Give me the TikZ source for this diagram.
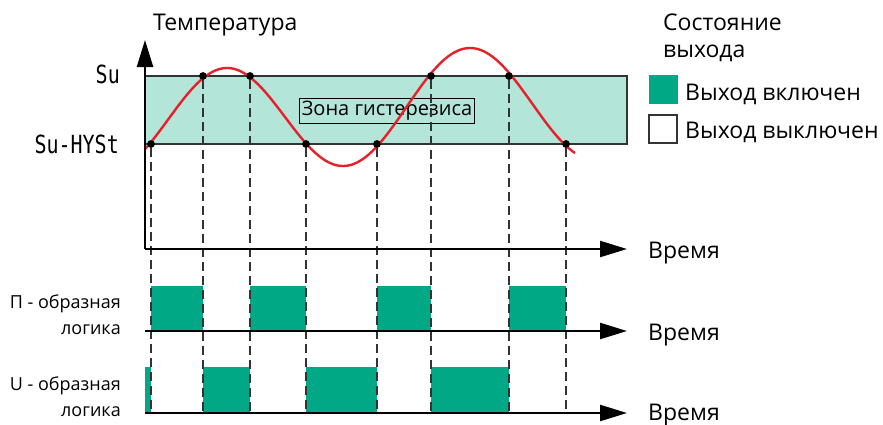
\documentclass[tikz,border=0pt]{standalone}
\usepackage{fontspec}
\setmainfont{Open Sans}
\newfontfamily\segfont[FakeStretch=0.8]{DejaVu Sans Mono}
\usetikzlibrary{arrows.meta}
\definecolor{zone}{HTML}{B3E5D9}
\definecolor{ongreen}{HTML}{00A886}
\definecolor{curvered}{HTML}{E8202A}
\definecolor{dashgray}{HTML}{333333}
\begin{document}
\begin{tikzpicture}[x=1pt,y=-1pt,
  axis/.style={line width=2.4pt,-{Triangle[length=27pt,width=16pt]}},
  bandline/.style={draw=dashgray,line width=1.3pt},
  vdash/.style={draw=dashgray,line width=1.4pt,dash pattern=on 9pt off 5pt},
  dot/.style={circle,fill=black,inner sep=0pt,minimum size=7.5pt},
  curve/.style={draw=curvered,line width=2.4pt},
  block/.style={fill=ongreen},
  big/.style={font=\fontsize{23}{27}\selectfont},
  mid/.style={font=\fontsize{20}{26}\selectfont},
  small/.style={font=\fontsize{18}{26}\selectfont},
  seg/.style={font=\segfont\fontsize{25}{30}\selectfont},
]
\useasboundingbox (0,0) rectangle (883,424);
% hysteresis band
\fill[zone] (145,76) rectangle (627,144);
\draw[bandline] (145,76) -- (627,76) -- (627,144) -- (145,144);
\node[draw=black,line width=1pt,inner sep=2.5pt,mid] (zonelabel) at (387,111) {Зона гистерезиса};
% output blocks, П-logic
\fill[block] (151,286) rectangle (203,331);
\fill[block] (250,286) rectangle (306,331);
\fill[block] (377,286) rectangle (431,331);
\fill[block] (509,286) rectangle (566,331);
% output blocks, U-logic
\fill[block] (145,367) rectangle (151,413);
\fill[block] (203,367) rectangle (250,413);
\fill[block] (306,367) rectangle (377,413);
\fill[block] (431,367) rectangle (509,413);
% switching points
\node[dot] (p1) at (151,144) {};
\node[dot] (p2) at (203,76) {};
\node[dot] (p3) at (250,76) {};
\node[dot] (p4) at (306,144) {};
\node[dot] (p5) at (377,144) {};
\node[dot] (p6) at (431,76) {};
\node[dot] (p7) at (509,76) {};
\node[dot] (p8) at (566,144) {};
\foreach \i/\xx in {1/151,2/203,3/250,4/306,5/377,6/431,7/509,8/566}{
  \coordinate (q\i) at (\xx,413);
  \draw[vdash] (p\i) -- (q\i);
}
% temperature curve
\draw[curve] plot[domain=145:227,samples=40] (\x,{119+51*cos(((\x-110)/117)*180)})
  -- plot[domain=227:343,samples=50] (\x,{117-49*cos(((\x-227)/116)*180)})
  -- plot[domain=343:470,samples=50] (\x,{107+59*cos(((\x-343)/127)*180)})
  -- plot[domain=470:575,samples=40] (\x,{104-56*cos(((\x-470)/125)*180)});
\foreach \i in {1,...,8}{\node[dot] at (p\i) {};}
% axes
\coordinate (O) at (145,249);
\coordinate (ytip) at (145,40);
\coordinate (xtip) at (627,249);
\coordinate (P0) at (145,331);
\coordinate (Ptip) at (627,331);
\coordinate (U0) at (145,413);
\coordinate (Utip) at (627,413);
\draw[axis] (O) -- (ytip);
\draw[axis] (O) -- (xtip);
\draw[axis] (P0) -- (Ptip);
\draw[axis] (U0) -- (Utip);
% labels
\node[big,anchor=base west,inner sep=0pt] (templbl) at (153,30) {Температура};
\node[big,anchor=base west,inner sep=0pt] (t1) at (648,258) {Время};
\node[big,anchor=base west,inner sep=0pt] (t2) at (648,340) {Время};
\node[big,anchor=base west,inner sep=0pt] (t3) at (648,420) {Время};
\node[seg,anchor=base east,inner sep=0pt] (sulbl) at (120,83) {Su};
\node[seg,anchor=base east,inner sep=0pt] (hystlbl) at (119,153) {Su-HYSt};
\node[small,anchor=base east,align=right,inner sep=0pt] (plogic) at (121,334) {П - образная\\логика};
\node[small,anchor=base east,align=right,inner sep=0pt] (ulogic) at (121,416) {U - образная\\логика};
% legend
\node[big,anchor=base west,align=left,inner sep=0pt] (legtitle) at (663,57) {Состояние\\выхода};
\node[fill=ongreen,minimum size=29pt,inner sep=0pt] (onsq) at (663,89.5) {};
\node[big,anchor=base west,inner sep=0pt] (ontxt) at (685,100) {Выход включен};
\node[draw=dashgray,line width=2pt,fill=white,minimum size=28pt,inner sep=0pt] (offsq) at (663,129) {};
\node[big,anchor=base west,inner sep=0pt] (offtxt) at (685,138) {Выход выключен};
\end{tikzpicture}
\end{document}
